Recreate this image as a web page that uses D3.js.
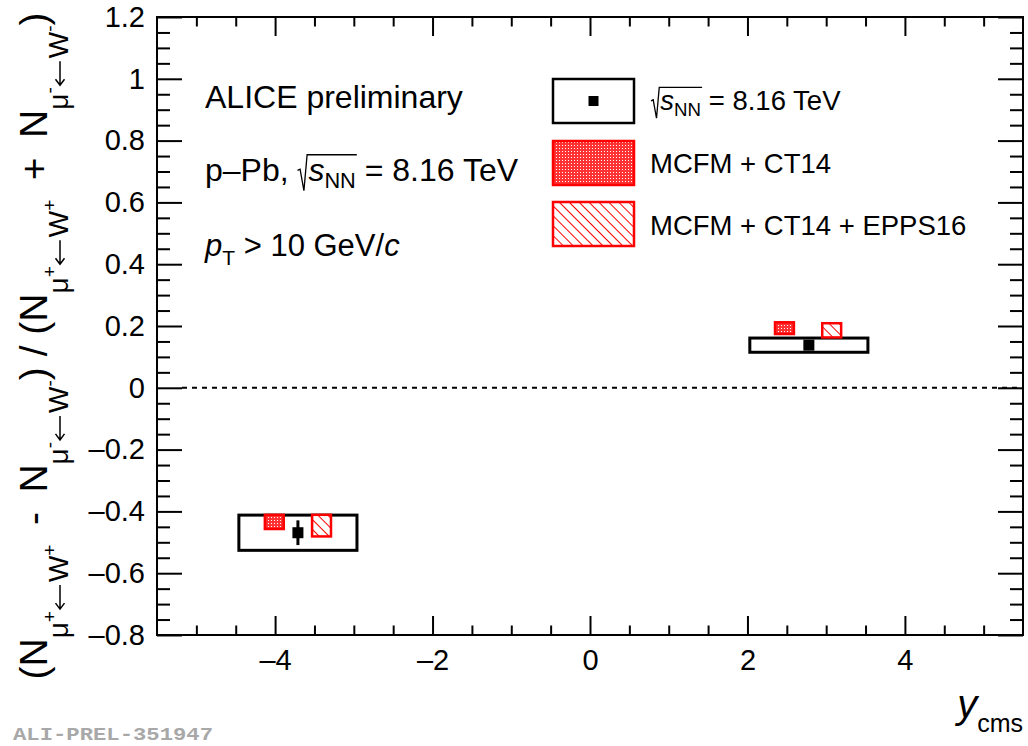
<!DOCTYPE html>
<html>
<head>
<meta charset="utf-8">
<title>W charge asymmetry p-Pb</title>
<script src="https://d3js.org/d3.v7.min.js"></script>
<style>
  body { margin: 0; background: #fff; }
  text { font-family: 'Liberation Sans', Arial, sans-serif; white-space: pre; }
</style>
</head>
<body>
<svg id="chart" width="1028" height="746"></svg>
<script>
// rapidity bins and measured asymmetry
const binLow = [-4.46, 2.03];
const binHigh = [-2.96, 3.53];
const asym = [-0.469, 0.138];
const statErr = [0.040, 0.006];
const sysErr = [0.057, 0.023];

// model predictions (drawn slightly displaced in y_cms for readability)
const ct14X = [-4.01, 2.47];
const ct14Val = [-0.434, 0.193];
const ct14Err = [0.023, 0.019];
const eppsX = [-3.41, 3.07];
const eppsVal = [-0.446, 0.186];
const eppsErr = [0.035, 0.023];

// axis ticks
const xTicks = [-4, -2, 0, 2, 4];
const yTicks = [-0.8, -0.6, -0.4, -0.2, 0, 0.2, 0.4, 0.6, 0.8, 1, 1.2];

const padL = 157, padR = 1023, padT = 17, padB = 635;
const svg = d3.select("#chart");

const x = d3.scaleLinear().domain([-5.5, 5.5]).range([padL, padR]);
const y = d3.scaleLinear().domain([-0.8, 1.2]).range([padB, padT]);

// patterns: red dot screen and red diagonal hatching
const defs = svg.append("defs");
const dots = defs.append("pattern").attr("id", "dots")
  .attr("patternUnits", "userSpaceOnUse").attr("width", 3).attr("height", 3);
dots.append("rect").attr("width", 3).attr("height", 3).attr("fill", "#f33").attr("shape-rendering", "crispEdges");
dots.append("rect").attr("x", 1).attr("y", 1).attr("width", 1).attr("height", 1).attr("fill", "#fff").attr("shape-rendering", "crispEdges");

const hatch = defs.append("pattern").attr("id", "hatch")
  .attr("patternUnits", "userSpaceOnUse").attr("width", 7).attr("height", 7)
  .attr("patternTransform", "rotate(-45)");
hatch.append("rect").attr("width", 7).attr("height", 7).attr("fill", "#fff");
hatch.append("line").attr("x1", 0.5).attr("x2", 0.5).attr("y1", 0).attr("y2", 7)
  .attr("stroke", "#f00").attr("stroke-width", 1);

// axes: ticks point inward on all four sides
const minorX = d3.range(-5, 5.01, 0.5).filter(v => !xTicks.includes(v));
const minorY = d3.range(-0.8, 1.201, 0.05).map(v => Math.round(v * 100) / 100)
  .filter(v => !yTicks.some(t => Math.abs(t - v) < 1e-6));

const fmtY = d => {
  const v = Math.round(d * 10) / 10;
  return v === 0 ? "0" : (v < 0 ? "\u2013" : "") + Math.abs(v);
};
const fmtX = d => d === 0 ? "0" : (d < 0 ? "\u2013" : "") + Math.abs(d);

function axisGroup(axis, tr) {
  const g = svg.append("g").attr("transform", tr).call(axis);
  g.select(".domain").remove();
  g.selectAll("line").attr("stroke", "#000").attr("stroke-width", 2);
  g.selectAll("text").style("font-size", "29px").style("fill", "#000")
    .style("font-family", "'Liberation Sans', Arial, sans-serif");
  return g;
}

axisGroup(d3.axisBottom(x).tickValues(xTicks).tickSize(-19).tickPadding(14).tickFormat(fmtX), `translate(0,${padB})`);
axisGroup(d3.axisBottom(x).tickValues(minorX).tickSize(-9.5).tickFormat(""), `translate(0,${padB})`);
axisGroup(d3.axisTop(x).tickValues(xTicks).tickSize(-19).tickFormat(""), `translate(0,${padT})`);
axisGroup(d3.axisTop(x).tickValues(minorX).tickSize(-9.5).tickFormat(""), `translate(0,${padT})`);
axisGroup(d3.axisLeft(y).tickValues(yTicks).tickSize(-25).tickPadding(12).tickFormat(fmtY), `translate(${padL},0)`);
axisGroup(d3.axisLeft(y).tickValues(minorY).tickSize(-13).tickFormat(""), `translate(${padL},0)`);
axisGroup(d3.axisRight(y).tickValues(yTicks).tickSize(-25).tickFormat(""), `translate(${padR},0)`);
axisGroup(d3.axisRight(y).tickValues(minorY).tickSize(-13).tickFormat(""), `translate(${padR},0)`);

// frame
svg.append("rect").attr("x", padL).attr("y", padT)
  .attr("width", padR - padL).attr("height", padB - padT)
  .attr("fill", "none").attr("stroke", "#000").attr("stroke-width", 2);

// zero line
svg.append("line").attr("x1", padL + 25).attr("x2", padR)
  .attr("y1", y(0)).attr("y2", y(0))
  .attr("stroke", "#000").attr("stroke-width", 2).attr("stroke-dasharray", "5,5");

// data: systematic boxes
const idx = d3.range(asym.length);
svg.append("g").selectAll("rect").data(idx).join("rect")
  .attr("x", i => x(binLow[i])).attr("width", i => x(binHigh[i]) - x(binLow[i]))
  .attr("y", i => y(asym[i] + sysErr[i])).attr("height", i => y(asym[i] - sysErr[i]) - y(asym[i] + sysErr[i]))
  .attr("fill", "none").attr("stroke", "#000").attr("stroke-width", 3);

// model boxes
const halfW = 0.12;
function modelBoxes(xs, vals, errs, fill) {
  svg.append("g").selectAll("rect").data(idx).join("rect")
    .attr("x", i => x(xs[i] - halfW)).attr("width", i => x(xs[i] + halfW) - x(xs[i] - halfW))
    .attr("y", i => y(vals[i] + errs[i])).attr("height", i => y(vals[i] - errs[i]) - y(vals[i] + errs[i]))
    .attr("fill", fill).attr("stroke", "#f00").attr("stroke-width", 2.5);
}
modelBoxes(ct14X, ct14Val, ct14Err, "url(#dots)");
modelBoxes(eppsX, eppsVal, eppsErr, "url(#hatch)");

// data: stat errors and markers
const cx = i => x((binLow[i] + binHigh[i]) / 2);
svg.append("g").selectAll("line").data(idx).join("line")
  .attr("x1", cx).attr("x2", cx)
  .attr("y1", i => y(asym[i] + statErr[i])).attr("y2", i => y(asym[i] - statErr[i]))
  .attr("stroke", "#000").attr("stroke-width", 3);
svg.append("g").selectAll("rect").data(idx).join("rect")
  .attr("x", i => cx(i) - 5.5).attr("y", i => y(asym[i]) - 5.5)
  .attr("width", 11).attr("height", 11).attr("fill", "#000");

// rich text helper: runs of {t, size, it, dy} or {arrow: len, dy}
function runs(g, list, x0, base) {
  let cur = x0;
  list.forEach(r => {
    if (r.arrow) {
      const ay = base + r.dy, a0 = cur + 2, a1 = cur + 2 + r.arrow;
      g.append("path")
        .attr("d", `M${a1},${ay} L${a0 + 1},${ay} M${a0 + 6},${ay - 4.5} L${a0},${ay} L${a0 + 6},${ay + 4.5}`)
        .attr("fill", "none").attr("stroke", "#000").attr("stroke-width", 1.5);
      cur = a1 + 3;
      return;
    }
    const t = g.append("text").attr("x", cur).attr("y", base + (r.dy || 0))
      .style("font-size", r.size + "px")
      .style("font-style", r.it ? "italic" : "normal")
      .style("fill", "#000")
      .text(r.t);
    cur += t.node().getComputedTextLength();
  });
  return cur;
}

// sqrt(s_NN) with radical sign, returns end x
function sqrtS(g, x0, base, size) {
  const h = size * 0.82;
  const end = runs(g, [{ t: "s", size: size, it: true }, { t: "NN", size: size * 0.68, dy: size * 0.22 }], x0 + size * 0.34, base);
  g.append("path")
    .attr("d", `M${x0},${base - size * 0.33} L${x0 + size * 0.08},${base - size * 0.37} L${x0 + size * 0.2},${base + size * 0.3} L${x0 + size * 0.3},${base - h} L${end + 1},${base - h}`)
    .attr("fill", "none").attr("stroke", "#000").attr("stroke-width", 1.3);
  return end;
}

// text block
const info = svg.append("g");
runs(info, [{ t: "ALICE preliminary", size: 32 }], 205, 108);
let e = runs(info, [{ t: "p\u2013Pb, ", size: 32 }], 205, 181);
e = sqrtS(info, e, 181, 32);
runs(info, [{ t: " = 8.16 TeV", size: 32 }], e, 181);
runs(info, [{ t: "p", size: 31, it: true }, { t: "T", size: 21, dy: 9 }, { t: " > 10 GeV/", size: 31 }, { t: "c", size: 31, it: true }], 205, 256);

// legend
const leg = svg.append("g");
const lx = 553, lw = 81, lh = 44;
const legY = [79, 141, 202];
leg.append("rect").attr("x", lx).attr("y", legY[0]).attr("width", lw).attr("height", lh)
  .attr("fill", "#fff").attr("stroke", "#000").attr("stroke-width", 2.5);
leg.append("rect").attr("x", lx + lw / 2 - 5).attr("y", legY[0] + lh / 2 - 5)
  .attr("width", 10).attr("height", 10).attr("fill", "#000");
leg.append("rect").attr("x", lx).attr("y", legY[1]).attr("width", lw).attr("height", lh)
  .attr("fill", "url(#dots)").attr("stroke", "#f00").attr("stroke-width", 2.5);
leg.append("rect").attr("x", lx).attr("y", legY[2]).attr("width", lw).attr("height", lh)
  .attr("fill", "url(#hatch)").attr("stroke", "#f00").attr("stroke-width", 2.5);
const le = sqrtS(leg, 651, 110, 27.5);
runs(leg, [{ t: " = 8.16 TeV", size: 27.5 }], le, 110);
runs(leg, [{ t: "MCFM + CT14", size: 27.5 }], 650, 173);
runs(leg, [{ t: "MCFM + CT14 + EPPS16", size: 27.5 }], 650, 235);

// x axis title
const xt = svg.append("g");
const xr = runs(xt, [{ t: "y", size: 40, it: true }, { t: "cms", size: 25, dy: 14 }], 0, 718);
xt.attr("transform", `translate(${1023 - xr},0)`);

// y axis title (rotated)
const yt = svg.append("g");
const M = 39, S = 28, SS = 19, dS = 21, dSS = 9;
const subPlus = [{ t: "\u03bc", size: S, dy: dS }, { t: "+", size: SS, dy: dSS }, { arrow: 24, dy: 13 }, { t: "W", size: S, dy: dS }, { t: "+", size: SS, dy: dSS }];
const subMinus = [{ t: "\u03bc", size: S, dy: dS }, { t: "-", size: SS, dy: dSS }, { arrow: 24, dy: 13 }, { t: "W", size: S, dy: dS }, { t: "-", size: SS, dy: dSS }];
const yl = runs(yt, [
  { t: "(N", size: M }, ...subPlus,
  { t: "\u2002-\u2002N", size: M }, ...subMinus,
  { t: ") / (N", size: M }, ...subPlus,
  { t: "\u2002+\u2002N", size: M }, ...subMinus,
  { t: ")", size: M }
], 0, 0);
yt.attr("transform", `translate(47,${346 + yl / 2}) rotate(-90)`);

// preliminary tag
svg.append("text").attr("x", 13).attr("y", 740)
  .style("font-family", "'Liberation Mono', 'DejaVu Sans Mono', monospace")
  .style("font-weight", "bold").style("font-size", "19px")
  .style("fill", "#a8a8a8").attr("textLength", 200).attr("lengthAdjust", "spacingAndGlyphs")
  .text("ALI-PREL-351947");
</script>
</body>
</html>
